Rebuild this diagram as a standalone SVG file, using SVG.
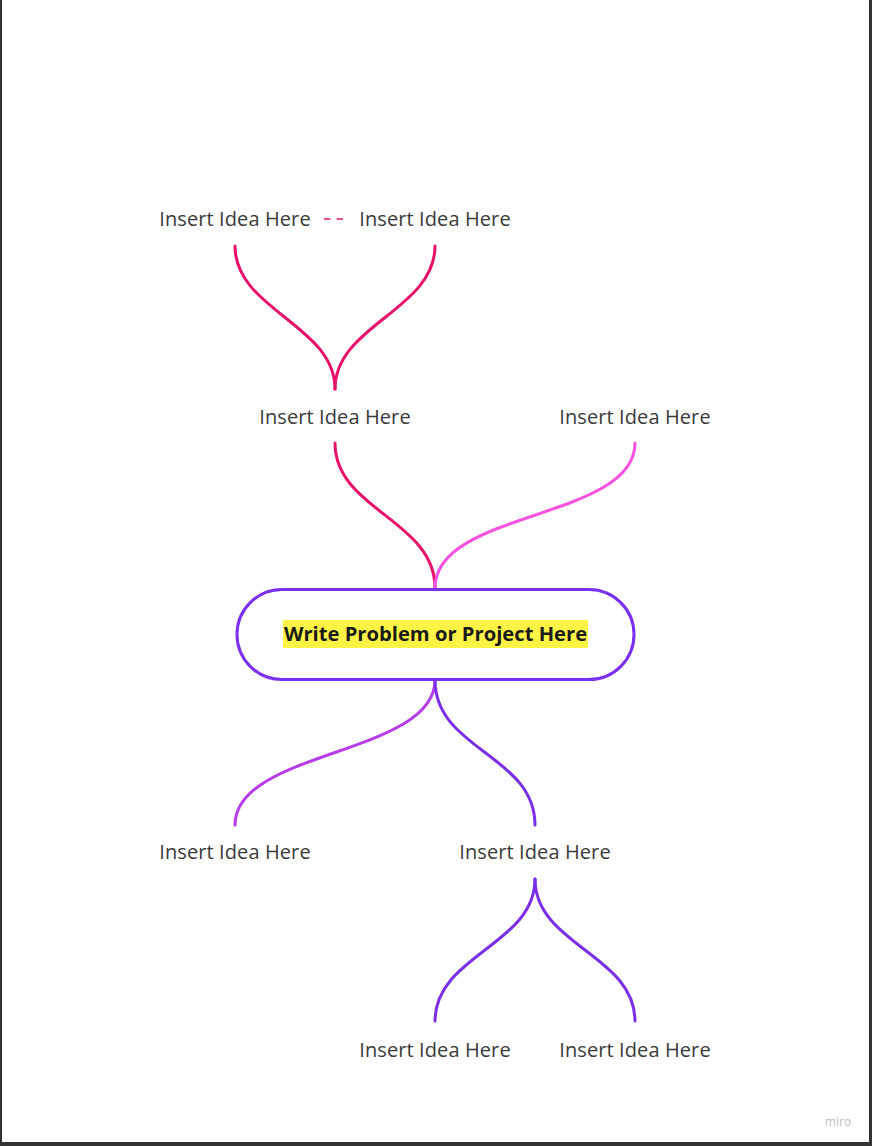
<svg xmlns="http://www.w3.org/2000/svg" width="872" height="1146" viewBox="0 0 872 1146">
<style>
.lbl{font-family:"Open Sans","Noto Sans",sans-serif;font-size:20px;fill:#3a3a3a;text-anchor:middle;letter-spacing:0.1px}
.c{fill:none;stroke-width:3;stroke-linecap:round}
.title{font-family:"Open Sans","Noto Sans",sans-serif;font-size:20.2px;font-weight:bold;fill:#1a1a1a;text-anchor:middle}
</style>
<rect x="0" y="0" width="872" height="1146" fill="#ffffff"/>
<rect x="0" y="0" width="2" height="1146" fill="#333333"/>
<rect x="869" y="0" width="3" height="1146" fill="#333333"/>
<rect x="0" y="1142" width="872" height="4" fill="#333333"/>
<g id="connectors">
<path class="c" stroke="#e8106a" d="M235,246 C235,310 335,325 335,389"/>
<path class="c" stroke="#e8106a" d="M435,246 C435,310 335,325 335,389"/>
<line x1="324" y1="219" x2="343" y2="219" stroke="#f0508f" stroke-width="2" stroke-dasharray="6.5 6"/>
<path class="c" stroke="#e8106a" d="M335,443 C335,510 435,520 435,588"/>
<path class="c" stroke="#f752e0" d="M635,443 C635,520 435,510 435,588"/>
<path class="c" stroke="#b53ce8" d="M435,680 C435,755 235,750 235,825"/>
<path class="c" stroke="#7a2ee8" d="M435,680 C435,750 535,755 535,825"/>
<path class="c" stroke="#7a2ee8" d="M535,879 C535,945 435,955 435,1021"/>
<path class="c" stroke="#7a2ee8" d="M535,879 C535,945 635,955 635,1021"/>
</g>
<g id="center">
<rect x="237" y="589.5" width="397" height="90" rx="45" ry="45" fill="#ffffff" stroke="#7b2ff0" stroke-width="3"/>
<rect x="283" y="620" width="305" height="28" fill="#fef445"/>
<text class="title" x="435.5" y="641">Write Problem or Project Here</text>
</g>
<g id="idea-top-left"><text class="lbl" x="235" y="226">Insert Idea Here</text></g>
<g id="idea-top-right"><text class="lbl" x="435" y="226">Insert Idea Here</text></g>
<g id="idea-mid-left"><text class="lbl" x="335" y="424">Insert Idea Here</text></g>
<g id="idea-mid-right"><text class="lbl" x="635" y="424">Insert Idea Here</text></g>
<g id="idea-low-left"><text class="lbl" x="235" y="859">Insert Idea Here</text></g>
<g id="idea-low-right"><text class="lbl" x="535" y="859">Insert Idea Here</text></g>
<g id="idea-bottom-left"><text class="lbl" x="435" y="1057">Insert Idea Here</text></g>
<g id="idea-bottom-right"><text class="lbl" x="635" y="1057">Insert Idea Here</text></g>
<text x="838" y="1126" font-family="'Open Sans','Noto Sans',sans-serif" font-size="12" fill="#c0c0c0" text-anchor="middle">miro</text>
</svg>
